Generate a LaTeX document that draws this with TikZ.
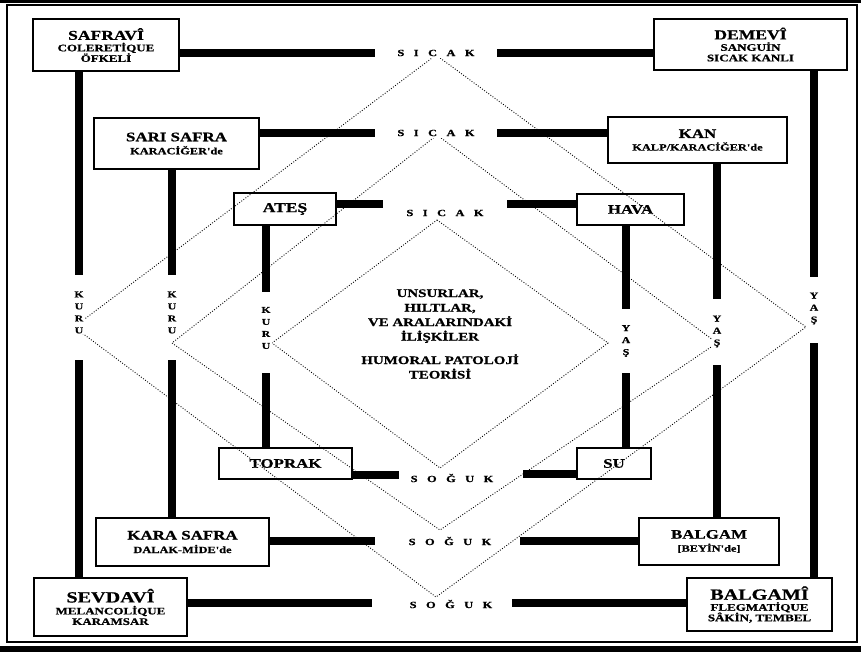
\documentclass[tikz,border=0pt]{standalone}
\usepackage{fontspec}
\newfontfamily\rf[FakeStretch=1.3, BoldFeatures={FakeBold=0.8}]{Liberation Serif}
\begin{document}
\begin{tikzpicture}[x=1pt,y=-1pt,
  box/.style={draw, line width=2.4pt, inner sep=0pt, align=center, font=\rf\bfseries\fontsize{10}{10.5}\selectfont},
  bar/.style={line width=7.5pt},
  dots/.style={line width=0.9pt, dash pattern=on 0.9pt off 1.7pt},
  hlab/.style={fill=white, inner sep=1.5pt, font=\rf\bfseries\fontsize{9.5}{10}\selectfont},
  vlab/.style={fill=white, inner sep=1pt, align=center, font=\rf\bfseries\fontsize{9}{12}\selectfont},
  ctext/.style={align=center, font=\rf\bfseries\fontsize{11.5}{14.5}\selectfont}
]
\useasboundingbox (0,0) rectangle (861,652);
\fill[white] (0,0) rectangle (861,652);
% frame
\fill (0,0) rectangle (861,3);
\fill (0,646) rectangle (861,652);
\draw[line width=1.2pt] (7,5) rectangle (857,642);

% dotted diamonds
\coordinate (OT) at (436,55);  \coordinate (OR) at (806,327);
\coordinate (OB) at (436,597); \coordinate (OL) at (74,327);
\coordinate (MT) at (437,135); \coordinate (MR) at (717,343);
\coordinate (MB) at (440,530); \coordinate (ML) at (172,343);
\coordinate (IT) at (437,220); \coordinate (IR) at (608,343);
\coordinate (IB) at (440,468); \coordinate (IL) at (272,343);
\draw[dots] (OT) -- (OR) -- (OB) -- (OL) -- cycle;
\draw[dots] (MT) -- (MR) -- (MB) -- (ML) -- cycle;
\draw[dots] (IT) -- (IR) -- (IB) -- (IL) -- cycle;

% boxes
\node[box, minimum width=146, minimum height=52] (saf) at (106,45)
  {{\fontsize{13.5}{13.5}\selectfont SAFRAVÎ}\\[1pt]COLERETİQUE\\ÖFKELİ};
\node[box, minimum width=193, minimum height=51] (dem) at (750.5,44.5)
  {{\fontsize{13.5}{13.5}\selectfont DEMEVÎ}\\[1pt]SANGUİN\\SICAK KANLI};
\node[box, minimum width=153, minimum height=58] (sev) at (110.5,607)
  {{\fontsize{15.5}{15.5}\selectfont SEVDAVÎ}\\[1.5pt]MELANCOLİQUE\\KARAMSAR};
\node[box, minimum width=145, minimum height=53] (blg) at (759.5,604.5)
  {{\fontsize{15.5}{15.5}\selectfont BALGAMÎ}\\[0.5pt]FLEGMATİQUE\\SÂKİN, TEMBEL};
\node[box, minimum width=165, minimum height=51] (sari) at (176.5,143.5)
  {{\fontsize{13}{13}\selectfont SARI SAFRA}\\[2.5pt]{\fontsize{9.5}{10}\selectfont KARACİĞER'de}};
\node[box, minimum width=179, minimum height=46] (kan) at (697.5,140)
  {{\fontsize{13}{13}\selectfont KAN}\\[2pt]{\fontsize{9.5}{10}\selectfont KALP/KARACİĞER'de}};
\node[box, minimum width=102, minimum height=32] (ates) at (285,209)
  {{\fontsize{13.5}{13.5}\selectfont ATEŞ}};
\node[box, minimum width=107, minimum height=31] (hava) at (630.5,209.5)
  {{\fontsize{13}{13}\selectfont HAVA}};
\node[box, minimum width=133, minimum height=31] (toprak) at (285.5,463.5)
  {{\fontsize{13}{13}\selectfont TOPRAK}};
\node[box, minimum width=74, minimum height=31] (su) at (614,463.5)
  {{\fontsize{13}{13}\selectfont SU}};
\node[box, minimum width=173, minimum height=48] (kara) at (182.5,542)
  {{\fontsize{13}{13}\selectfont KARA SAFRA}\\[3pt]{\fontsize{9.5}{10}\selectfont DALAK-MİDE'de}};
\node[box, minimum width=140, minimum height=47] (balgam) at (709,541.5)
  {{\fontsize{13}{13}\selectfont BALGAM}\\[2.5pt]{\fontsize{9.5}{10}\selectfont [BEYİN'de]}};

% horizontal bars
\coordinate (h1a) at (375,53);  \coordinate (h1b) at (497,53);
\coordinate (h2a) at (375,133); \coordinate (h2b) at (497,133);
\coordinate (h3a) at (383,204); \coordinate (h3b) at (507,204);
\coordinate (h4a) at (399,475); \coordinate (h4b) at (523,474);
\coordinate (h5a) at (375,541); \coordinate (h5b) at (520,541);
\coordinate (h6a) at (372,603); \coordinate (h6b) at (512,603);
\draw[bar] (saf.east |- h1a) -- (h1a);    \draw[bar] (h1b) -- (dem.west |- h1b);
\draw[bar] (sari.east |- h2a) -- (h2a);   \draw[bar] (h2b) -- (kan.west |- h2b);
\draw[bar] (ates.east |- h3a) -- (h3a);   \draw[bar] (h3b) -- (hava.west |- h3b);
\draw[bar] (toprak.east |- h4a) -- (h4a); \draw[bar] (h4b) -- (su.west |- h4b);
\draw[bar] (kara.east |- h5a) -- (h5a);   \draw[bar] (h5b) -- (balgam.west |- h5b);
\draw[bar] (sev.east |- h6a) -- (h6a);    \draw[bar] (h6b) -- (blg.west |- h6b);

% vertical bars
\coordinate (v1a) at (79,275);  \coordinate (v1b) at (79,360);
\coordinate (v2a) at (172,275); \coordinate (v2b) at (172,360);
\coordinate (v3a) at (266,292); \coordinate (v3b) at (266,373);
\coordinate (v4a) at (626,309); \coordinate (v4b) at (626,373);
\coordinate (v5a) at (717,299); \coordinate (v5b) at (717,365);
\coordinate (v6a) at (814,277); \coordinate (v6b) at (814,343);
\draw[bar] (saf.south -| v1a) -- (v1a);   \draw[bar] (v1b) -- (sev.north -| v1b);
\draw[bar] (sari.south -| v2a) -- (v2a);  \draw[bar] (v2b) -- (kara.north -| v2b);
\draw[bar] (ates.south -| v3a) -- (v3a);  \draw[bar] (v3b) -- (toprak.north -| v3b);
\draw[bar] (hava.south -| v4a) -- (v4a);  \draw[bar] (v4b) -- (su.north -| v4b);
\draw[bar] (kan.south -| v5a) -- (v5a);   \draw[bar] (v5b) -- (balgam.north -| v5b);
\draw[bar] (dem.south -| v6a) -- (v6a);   \draw[bar] (v6b) -- (blg.north -| v6b);

% labels
\node[hlab] (s1) at (436,53)  {S\hspace{9.5pt}I\hspace{9.5pt}C\hspace{9.5pt}A\hspace{9.5pt}K};
\node[hlab] (s2) at (436,133) {S\hspace{9.5pt}I\hspace{9.5pt}C\hspace{9.5pt}A\hspace{9.5pt}K};
\node[hlab] (s3) at (445,213) {S\hspace{9.5pt}I\hspace{9.5pt}C\hspace{9.5pt}A\hspace{9.5pt}K};
\node[hlab] (g3) at (452,478) {S\hspace{9.5pt}O\hspace{9.5pt}Ğ\hspace{9.5pt}U\hspace{9.5pt}K};
\node[hlab] (g2) at (450,541) {S\hspace{9.5pt}O\hspace{9.5pt}Ğ\hspace{9.5pt}U\hspace{9.5pt}K};
\node[hlab] (g1) at (451,604) {S\hspace{9.5pt}O\hspace{9.5pt}Ğ\hspace{9.5pt}U\hspace{9.5pt}K};

\node[vlab] (k1) at (79,312.5)  {K\\U\\R\\U};
\node[vlab] (k2) at (172,312.5) {K\\U\\R\\U};
\node[vlab] (k3) at (266,328)   {K\\U\\R\\U};
\node[vlab] (y1) at (626,341)   {Y\\A\\Ş};
\node[vlab] (y2) at (717,331.5) {Y\\A\\Ş};
\node[vlab] (y3) at (814,308.5) {Y\\A\\Ş};

\node[ctext] (c) at (440,334) {UNSURLAR,\\HILTLAR,\\VE ARALARINDAKİ\\İLİŞKİLER\\[9pt]HUMORAL PATOLOJİ\\TEORİSİ};
\end{tikzpicture}
\end{document}
